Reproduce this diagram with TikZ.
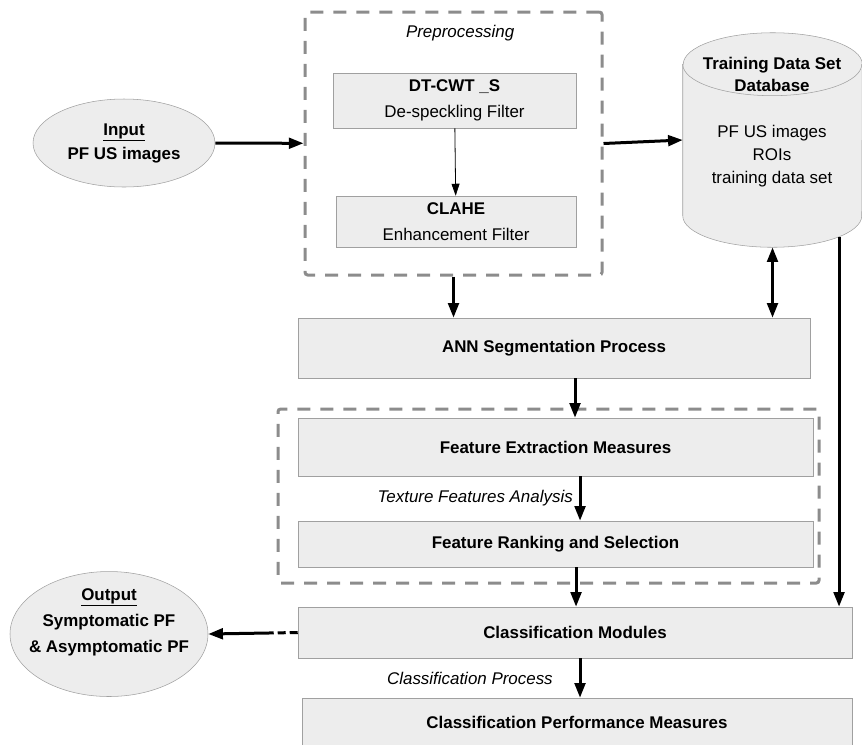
\documentclass[tikz,border=0pt]{standalone}
\usepackage{fontspec}
\setmainfont{Liberation Sans}
\usetikzlibrary{arrows.meta,shapes.geometric,positioning}
\definecolor{boxfill}{HTML}{EDEDED}
\definecolor{boxline}{HTML}{A0A0A0}
\definecolor{groupline}{HTML}{8C8C8C}
\tikzset{
    %Define standard arrow tip
    >={Triangle[length=11pt,width=8pt]},
    %Define style for boxes
    stage/.style={
           rectangle,
           draw=boxline, fill=boxfill,
           font=\fontsize{12.7}{18}\selectfont\bfseries,
           align=center, inner sep=0pt},
    filterbox/.style={
           stage,
           font=\fontsize{12.7}{19.5}\selectfont},
    terminal/.style={
           ellipse,
           draw=boxline, fill=boxfill,
           font=\fontsize{12.7}{18}\selectfont\bfseries,
           align=center, inner sep=0pt},
    termtext/.style={
           font=\fontsize{12.7}{19.5}\selectfont\bfseries,
           align=center},
    dbframe/.style={
           rectangle, inner sep=0pt,
           minimum width=134.25pt, minimum height=160.5pt},
    dbskin/.style={
           draw=boxline, fill=boxfill},
    group/.style={
           rectangle, rounded corners=2pt,
           draw=groupline, line width=2.25pt,
           dash pattern=on 9.75pt off 7.5pt},
    remark/.style={
           font=\fontsize{12.7}{18}\selectfont\itshape},
    % Define arrow style
    pil/.style={
           ->,
           line width=2.25pt},
    thinpil/.style={
           -{Triangle[length=9pt,width=6pt]},
           line width=0.6pt}
}
\begin{document}
\begin{tikzpicture}[x=0.75pt,y=-0.75pt]
\useasboundingbox (0,0) rectangle (862,744);
\clip (0,0) rectangle (862,744);
% preprocessing
\node[group, minimum width=222.75pt, minimum height=197.25pt] (pre) at (453.5,143.5) {};
\node[remark, below=7.5pt of pre.north, xshift=5pt] (pretitle) {Preprocessing};
\node[filterbox, minimum width=182.25pt, minimum height=41.25pt] (dtcwt) at (454.5,100.5)
    {\textbf{DT-CWT \_S}\\De-speckling Filter};
\node[filterbox, minimum width=180pt, minimum height=38.25pt] (clahe) at (456,221.5)
    {\textbf{CLAHE}\\Enhancement Filter};
\node[terminal, minimum width=136.5pt, minimum height=66pt] (in) at (124,143)
    {\underline{Input}\\PF US images};
% database
\node[dbframe] (db) at (772.5,140) {};
\path[dbskin] ([yshift=-23.6pt]db.north west) -- ([yshift=23.6pt]db.south west)
    arc[start angle=180, end angle=360, x radius=67.125pt, y radius=23.6pt]
    -- ([yshift=-23.6pt]db.north east)
    arc[start angle=0, end angle=180, x radius=67.125pt, y radius=23.6pt] -- cycle;
\draw[boxline] ([yshift=-23.6pt]db.north west)
    arc[start angle=180, end angle=360, x radius=67.125pt, y radius=23.6pt];
\coordinate (dbtap) at ([xshift=49.9pt, yshift=7.8pt]db.south);
\node[termtext, font=\fontsize{12.7}{16.5}\selectfont\bfseries] (dbtitle) at (772,74) {Training Data Set\\Database};
\node[align=center, font=\fontsize{12.7}{17.5}\selectfont] (dbbody) at (772,156) {PF US images\\ROIs\\training data set};
% segmentation and features
\node[stage, minimum width=384pt, minimum height=45pt] (ann) at (554,348) {ANN Segmentation Process};
\node[group, minimum width=405.75pt, minimum height=130.5pt] (feat) at (548.5,496) {};
\node[stage, minimum width=386.25pt, minimum height=43.5pt] (fem) at (555.5,447) {Feature Extraction Measures};
\node[stage, minimum width=386.25pt, minimum height=34.5pt] (frs) at (555.5,544) {Feature Ranking and Selection};
% classification
\node[stage, minimum width=415.5pt, minimum height=38.25pt] (cm) at (575,632.5) {Classification Modules};
\node[stage, minimum width=412.5pt, minimum height=36pt] (cpm) at (577,722) {Classification Performance Measures};
\node[terminal, minimum width=148.5pt, minimum height=93.75pt] (out) at (109,634) {};
\node[termtext] (outtext) at (109,622) {\underline{Output}\\Symptomatic PF\\\& Asymptomatic PF};

\draw[pil] (in) -- (pre);
\draw[thinpil] (dtcwt) -- (clahe);
\draw[pil] (pre.east) -- (db.west);
\draw[pil] (pre.south) -- (pre.south |- ann.north);
\draw[pil, <->] (db.south) -- (db.south |- ann.north);
\draw[pil] (dbtap) -- (dbtap |- cm.north);
\draw[pil] ([xshift=15.75pt]ann.south) -- ([xshift=15.75pt]ann.south |- fem.north);
\draw[pil] ([xshift=18.4pt]fem.south) -- node[remark, left=1pt] (tfa) {Texture Features Analysis}
    ([xshift=18.4pt]fem.south |- frs.north);
\draw[pil] ([xshift=15.4pt]frs.south) -- ([xshift=15.4pt]frs.south |- cm.north);
\draw[pil] ([xshift=3.75pt]cm.south) -- node[remark, left=16pt] (cp) {Classification Process}
    ([xshift=3.75pt]cm.south |- cpm.north);
\draw[pil, dash pattern=on 6pt off 3pt on 6pt off 3pt on 300pt] (cm.west) -- (out.east);
\end{tikzpicture}
\end{document}
